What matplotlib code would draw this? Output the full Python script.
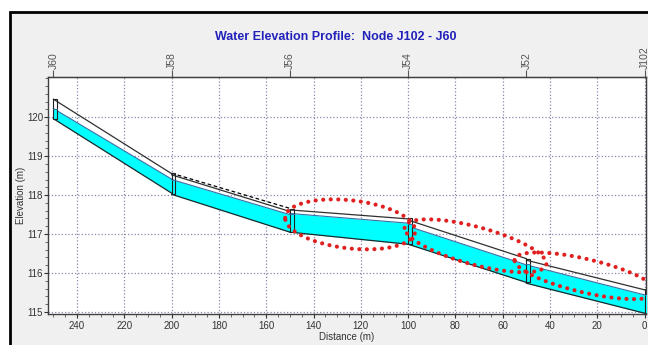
import numpy as np
import matplotlib.pyplot as plt
from matplotlib.patches import Rectangle

# nodes (distance from J102, m)
node_names = ["J60", "J58", "J56", "J54", "J52", "J102"]
node_dist = [250, 200, 150, 100, 50, 0]
node_invert = [119.95, 118.02, 117.05, 116.74, 115.76, 114.97]
node_water = [120.22, 118.40, 117.52, 117.25, 116.22, 115.45]
node_top = [120.46, 118.56, 117.65, 117.42, 116.37, 115.58]

# links: upstream end / downstream end
link_x0 = [250, 200, 150, 100, 50]
link_x1 = [200, 150, 100, 50, 0]
inv0 = [119.96, 118.02, 117.05, 116.74, 115.74]
inv1 = [118.05, 117.05, 116.74, 115.76, 114.97]
wat0 = [120.22, 118.40, 117.53, 117.20, 116.21]
wat1 = [118.41, 117.50, 117.28, 116.21, 115.44]
crown0 = [120.46, 118.52, 117.62, 117.36, 116.33]
crown1 = [118.55, 117.58, 117.39, 116.37, 115.57]

# dashed line over J58 - J56
dash_x = [200, 150]
dash_y = [118.56, 117.66]

# red dotted ellipses (centre x, centre y, half length, half height, tilt)
ell_cx = [124.5, 71.5, 25.0]
ell_cy = [117.25, 116.70, 115.93]
ell_a = [27.5, 30.0, 30.0]
ell_b = [0.62, 0.50, 0.44]
ell_m = [0.006, 0.0153, 0.0135]

box_w = 1.6
font = ["Liberation Sans", "DejaVu Sans"]

fig = plt.figure(figsize=(6.48, 3.45), dpi=100)
fig.patch.set_facecolor("white")
fig.patches.append(Rectangle((10 / 648, -0.05), 1.2, 1.05 - 12 / 345,
                             transform=fig.transFigure, facecolor="#f0f0f0",
                             edgecolor="black", linewidth=2, zorder=-10))

ax = fig.add_axes([48 / 648, 1 - 314 / 345, (646 - 48) / 648, (314 - 77) / 345])
ax.set_facecolor("white")

for i in range(len(link_x0)):
    xs = [link_x0[i], link_x1[i]]
    ax.fill_between(xs, [inv0[i], inv1[i]], [wat0[i], wat1[i]],
                    color="#00ffff", linewidth=0, zorder=2)
    ax.plot(xs, [wat0[i], wat1[i]], color="#3a6ea5", lw=0.8, zorder=3)
    ax.plot(xs, [inv0[i], inv1[i]], color="#1a2a2a", lw=0.9, zorder=3)
    ax.plot(xs, [crown0[i], crown1[i]], color="#303030", lw=0.9, zorder=3)

ax.plot(dash_x, dash_y, color="black", lw=0.9, ls=(0, (3, 2)), zorder=3)

for i in range(len(node_dist)):
    x = node_dist[i]
    ax.fill_between([x, x - box_w], node_invert[i], node_water[i],
                    color="#00ffff", linewidth=0, zorder=4)
    ax.add_patch(Rectangle((x - box_w, node_invert[i]), box_w,
                           node_top[i] - node_invert[i], facecolor="none",
                           edgecolor="#202020", lw=0.8, zorder=5))
    ax.plot([x, x - box_w], [node_water[i]] * 2, color="#3a6ea5", lw=0.7, zorder=5)

t = np.linspace(0, 2 * np.pi, 300)
for i in range(len(ell_cx)):
    ex = ell_cx[i] + ell_a[i] * np.cos(t)
    ey = ell_cy[i] + ell_m[i] * ell_a[i] * np.cos(t) + ell_b[i] * np.sin(t)
    ax.plot(ex, ey, color="#e02020", lw=3.0, ls=(0, (0.01, 1.8)),
            dash_capstyle="round", zorder=6)

ax.set_xlim(252.3, -0.6)
ax.set_ylim(114.95, 121.03)
ax.set_xticks(range(0, 241, 20))
ax.set_xticks(range(0, 251, 5), minor=True)
ax.set_yticks(range(115, 121))
ax.set_yticks(np.arange(115, 121.01, 0.2), minor=True)
ax.grid(True, which="major", color="#8888aa", ls=":", lw=0.9)
ax.tick_params(which="major", length=3, labelsize=7, colors="#333333")
ax.tick_params(axis="x", pad=2)
ax.tick_params(axis="y", pad=0.5)
ax.tick_params(which="minor", length=2, colors="#555555")
for lab in ax.get_xticklabels() + ax.get_yticklabels():
    lab.set_family(font)
for s in ax.spines.values():
    s.set_color("#404040")
    s.set_linewidth(1.0)

ax.set_xlabel("Distance (m)", fontsize=7, family=font, color="#333333", labelpad=1)
ax.set_ylabel("Elevation (m)", fontsize=7, family=font, color="#333333", labelpad=1)

top = ax.secondary_xaxis("top")
top.set_xticks(node_dist, labels=node_names)
top.tick_params(length=5, labelsize=7.5, rotation=90, colors="#555555", pad=1)
for lab in top.get_xticklabels():
    lab.set_family(font)

fig.text(336 / 648, 1 - 37 / 345, "Water Elevation Profile:  Node J102 - J60",
         ha="center", va="center", fontsize=9, color="#2222bb",
         family=font, fontweight="bold")

fig.savefig("out.png", dpi=100)
